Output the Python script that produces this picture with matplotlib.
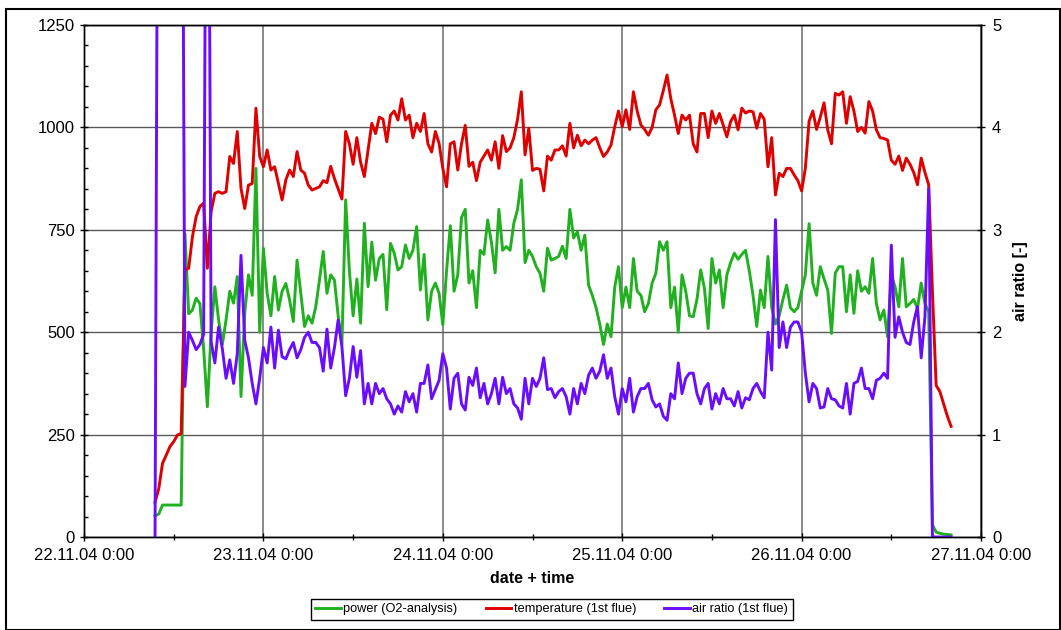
import numpy as np
import pandas as pd
import matplotlib
matplotlib.use('Agg')
import matplotlib.pyplot as plt
import matplotlib.dates as mdates
from matplotlib.ticker import MultipleLocator, FuncFormatter
from matplotlib.patches import Rectangle

# readings every 30 min, starting 22.11.04 09:30
start_time = '2004-11-22 09:30'

# power (O2-analysis), left axis
power = [
    52, 56, 78, 78, 78, 78, 78, 78, 740, 545,
    554, 583, 570, 460, 318, 500, 611, 530, 470, 530,
    600, 571, 636, 343, 546, 640, 590, 900, 500, 705,
    595, 540, 636, 554, 600, 619, 579, 526, 676, 595,
    514, 540, 522, 562, 628, 697, 595, 640, 627, 540,
    470, 823, 650, 540, 630, 522, 766, 611, 720, 627,
    680, 690, 555, 717, 693, 652, 660, 713, 680, 700,
    758, 603, 690, 530, 600, 620, 595, 518, 650, 760,
    600, 640, 780, 800, 620, 650, 560, 700, 690, 774,
    720, 645, 800, 700, 709, 700, 766, 800, 872, 670,
    700, 685, 660, 644, 600, 705, 676, 680, 685, 710,
    680, 800, 730, 745, 700, 737, 615, 590, 560, 520,
    470, 520, 489, 610, 660, 560, 610, 560, 680, 600,
    590, 550, 570, 620, 644, 721, 700, 721, 560, 610,
    500, 640, 600, 540, 538, 580, 652, 607, 509, 680,
    620, 652, 560, 640, 670, 693, 678, 690, 700, 650,
    590, 514, 603, 560, 685, 560, 520, 540, 580, 615,
    560, 550, 560, 600, 640, 765, 620, 590, 660, 630,
    603, 497, 644, 660, 660, 550, 640, 546, 650, 600,
    611, 595, 680, 570, 530, 554, 489, 640, 611, 562,
    680, 562, 570, 580, 558, 620, 570, 550, 30, 12,
    9, 7, 6, 5,
]

# temperature (1st flue), left axis
temperature = [
    85, 118, 180, 200, 221, 233, 249, 253, 652, 656,
    733, 782, 807, 815, 656, 794, 839, 843, 839, 843,
    929, 912, 990, 851, 802, 859, 863, 1047, 929, 904,
    945, 896, 904, 863, 823, 872, 896, 880, 941, 896,
    888, 859, 847, 851, 855, 870, 865, 905, 875, 850,
    825, 990, 960, 910, 975, 915, 880, 945, 1010, 985,
    1025, 1020, 965, 1030, 1040, 1018, 1070, 1018, 1030, 975,
    1010, 990, 1034, 960, 940, 990, 961, 900, 855, 960,
    965, 896, 960, 1005, 905, 915, 870, 915, 930, 945,
    920, 965, 900, 980, 941, 950, 975, 1020, 1087, 933,
    998, 895, 900, 898, 845, 930, 920, 945, 945, 955,
    930, 1010, 950, 981, 955, 969, 960, 969, 975, 950,
    929, 940, 957, 1002, 1040, 1002, 1043, 995, 1087, 1040,
    1006, 995, 981, 1000, 1043, 1055, 1090, 1128, 1070, 1030,
    985, 1030, 1018, 1030, 960, 940, 1034, 1034, 975, 1040,
    1010, 1034, 1006, 977, 1014, 1030, 994, 1047, 1035, 1040,
    1038, 998, 1034, 1020, 904, 975, 835, 888, 880, 900,
    900, 884, 870, 845, 900, 1015, 1040, 995, 1025, 1060,
    994, 960, 1083, 1079, 1087, 1010, 1075, 1040, 990, 1000,
    986, 1063, 1040, 994, 975, 973, 969, 920, 910, 930,
    895, 925, 910, 890, 860, 925, 890, 860, 600, 370,
    355, 325, 295, 270,
]

# air ratio (1st flue), right axis (values above 5 run off the top)
air_ratio = [
    0, 10, 10, 10, 10, 10, 10, 10, 1.47, 2.0,
    1.92, 1.83, 1.88, 1.98, 10, 1.91, 1.70, 2.05, 1.84, 1.55,
    1.73, 1.50, 1.79, 2.75, 1.92, 1.75, 1.50, 1.30, 1.55, 1.85,
    1.70, 2.05, 1.65, 2.02, 1.76, 1.74, 1.83, 1.90, 1.75, 1.83,
    1.95, 2.0, 1.90, 1.90, 1.85, 1.62, 2.03, 1.65, 1.85, 2.12,
    1.86, 1.38, 1.55, 1.86, 1.56, 1.82, 1.30, 1.50, 1.30, 1.50,
    1.40, 1.45, 1.35, 1.30, 1.20, 1.28, 1.22, 1.42, 1.32, 1.40,
    1.22, 1.50, 1.50, 1.68, 1.35, 1.44, 1.53, 1.79, 1.65, 1.25,
    1.55, 1.60, 1.30, 1.24, 1.56, 1.48, 1.65, 1.36, 1.50, 1.30,
    1.40, 1.55, 1.30, 1.56, 1.40, 1.45, 1.30, 1.26, 1.15, 1.55,
    1.30, 1.55, 1.47, 1.55, 1.75, 1.44, 1.45, 1.36, 1.42, 1.45,
    1.37, 1.20, 1.45, 1.30, 1.50, 1.40, 1.58, 1.65, 1.55, 1.62,
    1.78, 1.55, 1.65, 1.37, 1.20, 1.45, 1.32, 1.55, 1.22, 1.37,
    1.45, 1.45, 1.50, 1.34, 1.27, 1.30, 1.18, 1.14, 1.40, 1.35,
    1.70, 1.40, 1.55, 1.60, 1.60, 1.40, 1.30, 1.45, 1.50, 1.25,
    1.40, 1.30, 1.45, 1.35, 1.35, 1.28, 1.42, 1.26, 1.36, 1.34,
    1.45, 1.50, 1.42, 1.36, 2.00, 1.63, 3.10, 1.85, 2.10, 1.85,
    2.05, 2.10, 2.10, 2.00, 1.60, 1.32, 1.50, 1.45, 1.26, 1.27,
    1.45, 1.35, 1.34, 1.28, 1.26, 1.50, 1.20, 1.50, 1.52, 1.65,
    1.45, 1.45, 1.35, 1.53, 1.55, 1.60, 1.55, 2.85, 1.95, 2.15,
    2.00, 1.90, 1.88, 2.10, 2.25, 1.75, 2.15, 3.40, 0, 0,
    0, 0, 0, 0,
]

labels = ['power (O2-analysis)', 'temperature (1st flue)', 'air ratio (1st flue)']
colors = ['#20b020', '#e00000', '#6a0dff']

assert len(power) == len(temperature) == len(air_ratio)
times = pd.date_range(start_time, periods=len(power), freq='30min')

plt.rcParams['font.family'] = ['Liberation Sans', 'DejaVu Sans']

fig = plt.figure(figsize=(10.61, 6.30), dpi=100)
ax = fig.add_axes([0.0792, 0.1476, 0.9246 - 0.0792, 0.9603 - 0.1476])
ax2 = ax.twinx()

l1, = ax.plot(times, power, color=colors[0], lw=2.1)
l2, = ax.plot(times, temperature, color=colors[1], lw=2.1)
l3, = ax2.plot(times, air_ratio, color=colors[2], lw=2.1)

ax.set_xlim(pd.Timestamp('2004-11-22'), pd.Timestamp('2004-11-27'))
ax.set_ylim(0, 1250)
ax2.set_ylim(0, 5)

# ticks
ax.set_yticks(range(0, 1251, 250))
ax.yaxis.set_minor_locator(MultipleLocator(50))
ax2.set_yticks(range(0, 6))
ax.xaxis.set_major_locator(mdates.DayLocator())
ax.xaxis.set_minor_locator(mdates.HourLocator(byhour=[12]))
ax.xaxis.set_major_formatter(FuncFormatter(
    lambda v, p: '{:%d.%m.%y} {}:{:%M}'.format(mdates.num2date(v), mdates.num2date(v).hour, mdates.num2date(v))))

ax.tick_params(axis='both', which='major', direction='inout', length=6, width=1,
               labelsize=12, colors='black')
ax.tick_params(axis='y', which='minor', direction='in', length=3, width=1)
ax.tick_params(axis='x', which='minor', direction='inout', length=4, width=1)
ax.tick_params(axis='x', which='major', pad=5)
ax2.tick_params(axis='y', which='major', direction='inout', length=6, width=1,
                labelsize=12, pad=5)

# grid
ax.set_axisbelow(True)
ax.grid(axis='y', which='major', color='#5a5a5a', lw=1.0)
ax.grid(axis='x', which='major', color='#808080', lw=1.3)

for a in (ax, ax2):
    for s in a.spines.values():
        s.set_color('black')
        s.set_linewidth(1.0)

ax.set_xlabel('date + time', fontsize=11.5, fontweight='bold', labelpad=6)
ax2.set_ylabel('air ratio [-]', fontsize=11.5, fontweight='bold', labelpad=8)

leg = fig.legend([l1, l2, l3], labels, loc='center', bbox_to_anchor=(0.520, 0.033),
                 ncol=3, fontsize=9.2, frameon=True, fancybox=False, edgecolor='black',
                 framealpha=1, handlelength=2.0, handletextpad=0.2, columnspacing=2.2,
                 borderpad=0.35)
leg.get_frame().set_linewidth(1.0)

# outer chart border
fig.patches.append(Rectangle((5.5 / 1061, 0.5 / 630), 1054 / 1061, 621 / 630,
                             transform=fig.transFigure, fill=False,
                             edgecolor='black', lw=1.5))

fig.savefig('out.png', dpi=100)
